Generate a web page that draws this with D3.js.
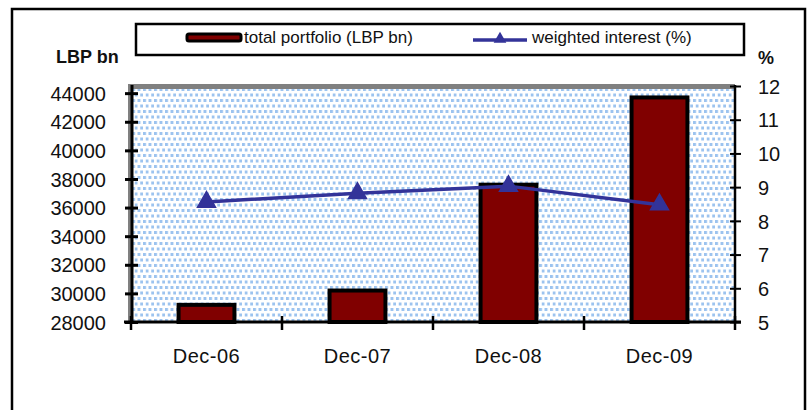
<!DOCTYPE html>
<html>
<head>
<meta charset="utf-8">
<script src="https://cdn.jsdelivr.net/npm/d3@7"></script>
<style>
  body { margin: 0; background: #fff; }
  svg text { font-family: Arial, "Liberation Sans", sans-serif; fill: #111; }
</style>
</head>
<body>
<div id="vis"></div>
<script>
// data
const categories = ["Dec-06", "Dec-07", "Dec-08", "Dec-09"];
const portfolio = [29200, 30200, 37600, 43700];   // LBP bn
const interest = [8.56, 8.82, 9.03, 8.48];        // %
const leftTicks = [28000, 30000, 32000, 34000, 36000, 38000, 40000, 42000, 44000];
const rightTicks = [5, 6, 7, 8, 9, 10, 11, 12];

const width = 809, height = 410;
const plot = { left: 131, right: 735, top: 86, bottom: 322 };

const svg = d3.select("#vis").append("svg")
  .attr("width", width)
  .attr("height", height);

// dotted fill of the plot area
const defs = svg.append("defs");
const pat = defs.append("pattern")
  .attr("id", "dots")
  .attr("patternUnits", "userSpaceOnUse")
  .attr("width", 5.5).attr("height", 11);
pat.append("rect").attr("x", 0).attr("y", 0).attr("width", 3).attr("height", 3).attr("fill", "#9cc3ef");
pat.append("rect").attr("x", 2.75).attr("y", 5.5).attr("width", 3).attr("height", 3).attr("fill", "#9cc3ef");

// outer chart frame
svg.append("rect")
  .attr("x", 12).attr("y", 9)
  .attr("width", 793).attr("height", 430)
  .attr("fill", "#fff")
  .attr("stroke", "#000")
  .attr("stroke-width", 2.5);

let x = d3.scaleBand()
  .domain(categories)
  .range([plot.left, plot.right]);

let yL = d3.scaleLinear()
  .domain([28000, 44500])
  .range([plot.bottom, plot.top]);

let yR = d3.scaleLinear()
  .domain([5, 12])
  .range([plot.bottom, plot.top]);

// plot area
svg.append("rect")
  .attr("x", plot.left - 2).attr("y", plot.top - 2)
  .attr("width", plot.right - plot.left + 2)
  .attr("height", plot.bottom - plot.top + 2)
  .attr("fill", "#fff");
svg.append("rect")
  .attr("x", plot.left - 2).attr("y", plot.top - 2)
  .attr("width", plot.right - plot.left + 2)
  .attr("height", plot.bottom - plot.top + 2)
  .attr("fill", "url(#dots)");
// grey border (top and left)
svg.append("rect")
  .attr("x", plot.left - 2).attr("y", plot.top - 2)
  .attr("width", plot.right - plot.left + 2).attr("height", 5)
  .attr("fill", "#808080");
svg.append("rect")
  .attr("x", plot.left - 3).attr("y", plot.top - 2)
  .attr("width", 3).attr("height", plot.bottom - plot.top + 2)
  .attr("fill", "#808080");

// bars
const barW = x.bandwidth() * 0.37;
svg.selectAll("rect.bar")
  .data(categories)
  .join("rect")
  .attr("class", "bar")
  .attr("x", d => x(d) + x.bandwidth() / 2 - barW / 2)
  .attr("width", barW)
  .attr("y", (d, i) => yL(portfolio[i]))
  .attr("height", (d, i) => yL(28000) - yL(portfolio[i]))
  .attr("fill", "#800000")
  .attr("stroke", "#000")
  .attr("stroke-width", 4);

// left axis
const axL = svg.append("g")
  .attr("transform", `translate(${plot.left + 1}, 0)`)
  .call(d3.axisLeft(yL).tickValues(leftTicks).tickSize(6).tickFormat(d => d));
axL.select(".domain").remove();
axL.append("line")
  .attr("x1", 0).attr("x2", 0)
  .attr("y1", plot.bottom + 1).attr("y2", plot.top - 1)
  .attr("stroke", "#000").attr("stroke-width", 3);
axL.selectAll(".tick line")
  .attr("x1", 6).attr("x2", -7)
  .attr("stroke", "#000").attr("stroke-width", 3);
axL.selectAll(".tick text")
  .attr("x", -26)
  .attr("dy", "0.36em")
  .attr("fill", "#111")
  .style("font-size", "20px");

// right axis
const axR = svg.append("g")
  .attr("transform", `translate(${plot.right}, 0)`)
  .call(d3.axisRight(yR).tickValues(rightTicks).tickSize(6).tickFormat(d3.format("d")));
axR.select(".domain").remove();
axR.append("line")
  .attr("x1", 0).attr("x2", 0)
  .attr("y1", plot.bottom + 1).attr("y2", plot.top - 1)
  .attr("stroke", "#000").attr("stroke-width", 2.5);
axR.selectAll(".tick line")
  .attr("x1", -5).attr("x2", 6)
  .attr("stroke", "#000").attr("stroke-width", 2);
axR.selectAll(".tick text")
  .attr("x", 23)
  .attr("dy", "0.36em")
  .attr("fill", "#111")
  .style("font-size", "20px");

// bottom axis
const xTicks = categories.map(d => x(d)).concat([x(categories[categories.length - 1]) + x.bandwidth()]);
svg.append("line")
  .attr("x1", plot.left - 7).attr("x2", plot.right + 6)
  .attr("y1", plot.bottom).attr("y2", plot.bottom)
  .attr("stroke", "#000").attr("stroke-width", 3);
svg.selectAll("line.xtick")
  .data(xTicks)
  .join("line")
  .attr("class", "xtick")
  .attr("x1", d => d).attr("x2", d => d)
  .attr("y1", plot.bottom - 6).attr("y2", plot.bottom + 8)
  .attr("stroke", "#000").attr("stroke-width", 2.5);
svg.selectAll("text.xlabel")
  .data(categories)
  .join("text")
  .attr("class", "xlabel")
  .attr("x", d => x(d) + x.bandwidth() / 2)
  .attr("y", 363)
  .attr("text-anchor", "middle")
  .style("font-size", "20px")
  .style("letter-spacing", "0.5px")
  .text(d => d);

// interest line
const line = d3.line()
  .x((d, i) => x(categories[i]) + x.bandwidth() / 2)
  .y(d => yR(d));
svg.append("path")
  .datum(interest)
  .attr("d", line)
  .attr("fill", "none")
  .attr("stroke", "#333399")
  .attr("stroke-width", 3.5);
svg.selectAll("path.marker")
  .data(interest)
  .join("path")
  .attr("class", "marker")
  .attr("transform", (d, i) => `translate(${x(categories[i]) + x.bandwidth() / 2}, ${yR(d)})`)
  .attr("d", d3.symbol(d3.symbolTriangle, 140))
  .attr("fill", "#333399")
  .attr("stroke", "#333399")
  .attr("stroke-width", 1.5);

// axis titles
svg.append("text")
  .attr("x", 56).attr("y", 63)
  .style("font-size", "18px").style("font-weight", "bold")
  .text("LBP bn");
svg.append("text")
  .attr("x", 758).attr("y", 64)
  .style("font-size", "18px").style("font-weight", "bold")
  .text("%");

// legend
const lg = svg.append("g");
lg.append("rect")
  .attr("x", 136).attr("y", 24)
  .attr("width", 608).attr("height", 31)
  .attr("fill", "#fff")
  .attr("stroke", "#000").attr("stroke-width", 2.5);
lg.append("rect")
  .attr("x", 187).attr("y", 34)
  .attr("width", 54).attr("height", 7)
  .attr("rx", 2)
  .attr("fill", "#800000")
  .attr("stroke", "#000").attr("stroke-width", 3);
lg.append("text")
  .attr("x", 244).attr("y", 43)
  .style("font-size", "17px")
  .text("total portfolio (LBP bn)");
lg.append("line")
  .attr("x1", 473).attr("x2", 527)
  .attr("y1", 40).attr("y2", 40)
  .attr("stroke", "#333399").attr("stroke-width", 3.5);
lg.append("path")
  .attr("transform", "translate(500, 39)")
  .attr("d", d3.symbol(d3.symbolTriangle, 70))
  .attr("fill", "#333399");
lg.append("text")
  .attr("x", 532).attr("y", 43)
  .style("font-size", "17px")
  .text("weighted interest (%)");
</script>
</body>
</html>
